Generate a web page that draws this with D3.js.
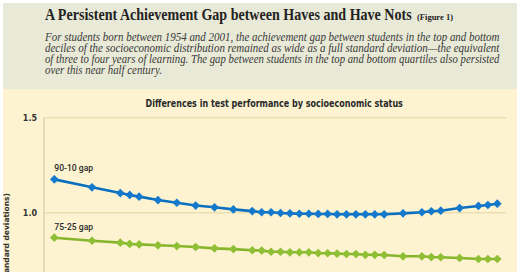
<!DOCTYPE html>
<html>
<head>
<meta charset="utf-8">
<script src="https://cdn.jsdelivr.net/npm/d3@7"></script>
<style>
  body { margin: 0; background: #fff; }
  svg { display: block; }
</style>
</head>
<body>
<svg id="chart"></svg>
<script>
const years = [1954, 1958, 1961, 1962, 1963, 1965, 1967, 1969, 1971, 1973, 1975, 1976, 1977,
  1978, 1979, 1980, 1981, 1982, 1983, 1984, 1985, 1986, 1987, 1988, 1989, 1991, 1993, 1994,
  1995, 1997, 1999, 2000, 2001];
const gap9010 = [1.176, 1.134, 1.104, 1.094, 1.085, 1.067, 1.053, 1.038, 1.029, 1.018, 1.009,
  1.003, 1.003, 0.999, 0.997, 0.995, 0.995, 0.994, 0.994, 0.992, 0.992, 0.992, 0.992, 0.992,
  0.992, 0.997, 1.003, 1.008, 1.011, 1.025, 1.036, 1.041, 1.048];
const gap7525 = [0.869, 0.853, 0.843, 0.836, 0.834, 0.829, 0.825, 0.820, 0.813, 0.809, 0.803,
  0.801, 0.795, 0.795, 0.792, 0.792, 0.792, 0.788, 0.787, 0.785, 0.783, 0.783, 0.779, 0.779,
  0.778, 0.771, 0.771, 0.767, 0.766, 0.762, 0.757, 0.757, 0.757];
const yTicks = [1.0, 1.5];
const seriesNames = ["90-10 gap", "75-25 gap"];

const title = "A Persistent Achievement Gap between Haves and Have Nots";
const figNote = "(Figure 1)";
const intro = [
  "For students born between 1954 and 2001, the achievement gap between students in the top and bottom",
  "deciles of the socioeconomic distribution remained as wide as a full standard deviation\u2014the equivalent",
  "of three to four years of learning. The gap between students in the top and bottom quartiles also persisted",
  "over this near half century."
];
const chartTitle = "Differences in test performance by socioeconomic status";
const yLabel = "(standard deviations)";

const width = 520, height = 272;
const svg = d3.select("#chart").attr("width", width).attr("height", height);

// narrow a left-anchored text with a horizontal scale if it is wider than w
const squeeze = (sel, w) => sel.each(function () {
  const len = this.getComputedTextLength();
  if (len > w) {
    const x0 = +this.getAttribute("x");
    const k = w / len;
    d3.select(this).attr("transform", `translate(${x0 * (1 - k)},0) scale(${k},1)`);
  }
});

// backgrounds
svg.append("rect").attr("x", 3).attr("y", 3).attr("width", 514).attr("height", 86)
  .attr("fill", "#e8e9d6");
svg.append("rect").attr("x", 3).attr("y", 89).attr("width", 514).attr("height", height - 89)
  .attr("fill", "#fdf3d1");

// header text
const tMain = svg.append("text").attr("x", 45).attr("y", 20)
  .attr("font-family", "Liberation Serif, serif").attr("fill", "#222")
  .attr("font-size", 16.5).attr("font-weight", "bold").text(title);
squeeze(tMain, 367);
svg.append("text").attr("x", 417).attr("y", 20)
  .attr("font-family", "Liberation Serif, serif").attr("fill", "#222")
  .attr("font-size", 8.5).attr("font-weight", "bold").text(figNote);

const introSel = svg.append("g").selectAll("text")
  .data(intro)
  .join("text")
  .attr("x", 45)
  .attr("y", (d, i) => 41 + i * 11)
  .attr("font-family", "Liberation Serif, serif")
  .attr("font-style", "italic")
  .attr("font-size", 11.5)
  .attr("fill", "#3a3a3a")
  .text(d => d);
introSel.filter((d, i) => i < 3).call(squeeze, 455);
introSel.filter((d, i) => i === 3).call(squeeze, 117);

// scales
const x = d3.scaleLinear().domain([1954, 2001]).range([54.3, 497.3]);
const y = d3.scaleLinear().domain([1.0, 1.5]).range([212.8, 117.8]);

// gridlines
svg.append("g").selectAll("line")
  .data(yTicks)
  .join("line")
  .attr("x1", 44).attr("x2", 506)
  .attr("y1", d => y(d)).attr("y2", d => y(d))
  .attr("stroke", "#ebdfb2").attr("stroke-width", 1.5);

// y axis
svg.append("line").attr("x1", 44).attr("x2", 44).attr("y1", y(1.5)).attr("y2", height)
  .attr("stroke", "#d8cca0").attr("stroke-width", 1.2);

const yAxis = d3.axisLeft(y).tickValues(yTicks).tickFormat(d3.format(".1f")).tickSize(0).tickPadding(7);
const ya = svg.append("g").attr("transform", "translate(44,0)").call(yAxis);
ya.select(".domain").remove();
ya.selectAll("text")
  .attr("font-family", "DejaVu Sans, sans-serif")
  .attr("font-size", 8)
  .attr("font-weight", "bold")
  .attr("fill", "#333");

svg.append("text")
  .attr("transform", `translate(9,193) rotate(-90)`)
  .attr("text-anchor", "end")
  .attr("font-family", "DejaVu Sans, sans-serif")
  .attr("font-size", 7.5)
  .attr("font-weight", "bold")
  .attr("fill", "#333")
  .text(yLabel);

// chart title
const ct = svg.append("text").attr("x", 145.5).attr("y", 107.5)
  .attr("font-family", "DejaVu Sans, sans-serif")
  .attr("font-weight", "bold")
  .attr("font-size", 10)
  .attr("fill", "#2a2a2a")
  .text(chartTitle);
squeeze(ct, 258);

// lines
const series = [
  { name: seriesNames[0], values: gap9010, color: "#0b6fc0", marker: "#1479cc" },
  { name: seriesNames[1], values: gap7525, color: "#86b52c", marker: "#8fbf34" }
];
const line = d3.line().x((d, i) => x(years[i])).y(d => y(d));
const diamond = d3.symbol().type(d3.symbolDiamond2).size(48);

series.forEach(s => {
  svg.append("path")
    .datum(s.values)
    .attr("fill", "none")
    .attr("stroke", s.color)
    .attr("stroke-width", 2.6)
    .attr("d", line);
  svg.append("g").selectAll("path")
    .data(s.values)
    .join("path")
    .attr("transform", (d, i) => `translate(${x(years[i])},${y(d)})`)
    .attr("d", diamond)
    .attr("fill", s.marker);
  const lbl = svg.append("text")
    .attr("x", x(years[0]))
    .attr("y", y(s.values[0]) - 8)
    .attr("font-family", "Roboto, sans-serif")
    .attr("font-weight", 500)
    .attr("font-size", 9.5)
    .attr("fill", "#2a2a2a")
    .text(s.name);
  squeeze(lbl, 39);
});
</script>
</body>
</html>
